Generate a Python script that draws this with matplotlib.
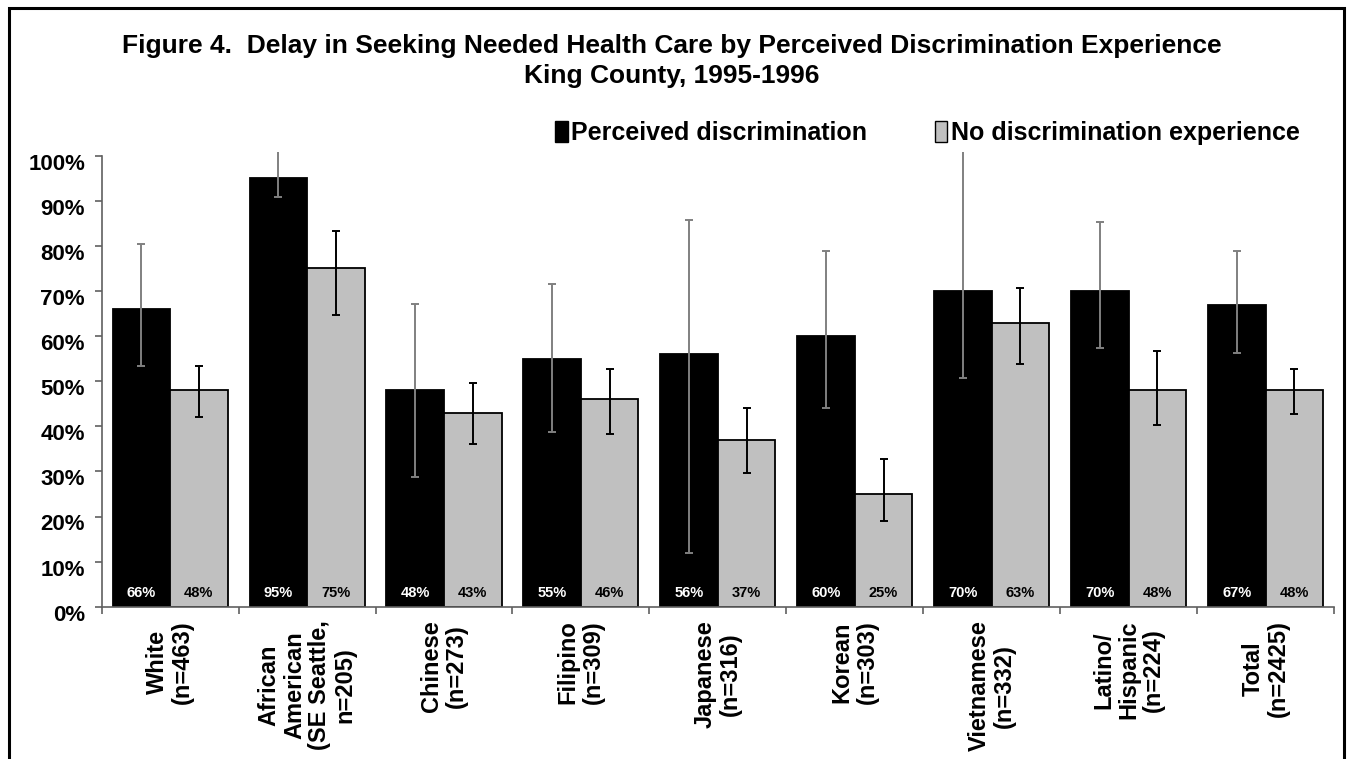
import matplotlib
matplotlib.use("Agg")
import matplotlib.pyplot as plt
import matplotlib.transforms as mtransforms
from matplotlib.patches import Rectangle, Patch
import numpy as np

# Survey groups (tick labels)
categories = [
    "White\n(n=463)",
    "African\nAmerican\n(SE Seattle,\nn=205)",
    "Chinese\n(n=273)",
    "Filipino\n(n=309)",
    "Japanese\n(n=316)",
    "Korean\n(n=303)",
    "Vietnamese\n(n=332)",
    "Latino/\nHispanic\n(n=224)",
    "Total\n(n=2425)",
]

# Percent delaying needed care, with confidence limits
perceived = [66, 95, 48, 55, 56, 60, 70, 70, 67]
perceived_low = [53.4, 90.8, 28.7, 38.7, 11.8, 44.0, 50.6, 57.4, 56.2]
perceived_high = [80.4, 102.0, 67.1, 71.5, 85.7, 78.9, 102.0, 85.3, 78.8]

no_disc = [48, 75, 43, 46, 37, 25, 63, 48, 48]
no_disc_low = [42.1, 64.7, 36.0, 38.4, 29.6, 19.0, 53.8, 40.2, 42.7]
no_disc_high = [53.4, 83.4, 49.5, 52.6, 44.1, 32.7, 70.7, 56.7, 52.6]

series_names = ["Perceived discrimination", "No discrimination experience"]
y_ticks = list(range(0, 101, 10))

FONT = "Liberation Sans"
plt.rcParams["font.family"] = [FONT, "DejaVu Sans"]
plt.rcParams["font.weight"] = "bold"

W, H, DPI = 1351, 759, 100
fig = plt.figure(figsize=(W / DPI, H / DPI), dpi=DPI)
fig.patch.set_facecolor("white")

# outer frame around the whole figure (bottom edge runs off the page)
frame = Rectangle((9 / W, -0.05), (1344 - 9) / W, 1.05 - 8 / H,
                  transform=fig.transFigure, fill=False,
                  edgecolor="black", linewidth=2.2, zorder=0)
fig.patches.append(frame)

ymax = 100.8
ax_left, ax_right = 101.7 / W, 1334 / W
ax_bottom = 1 - 606.7 / H
ax_top = 1 - (606.7 - ymax * 4.51) / H
ax = fig.add_axes([ax_left, ax_bottom, ax_right - ax_left, ax_top - ax_bottom])

x = np.arange(len(categories))
w = 0.42
bar_black = "black"
bar_grey = "#C0C0C0"

ax.bar(x - w / 2, perceived, w, color=bar_black, edgecolor="black",
       linewidth=1.3, zorder=2)
ax.bar(x + w / 2, no_disc, w, color=bar_grey, edgecolor="black",
       linewidth=1.3, zorder=2)

p = np.array(perceived, dtype=float)
n = np.array(no_disc, dtype=float)
ax.errorbar(x - w / 2, p,
            yerr=[p - np.array(perceived_low), np.array(perceived_high) - p],
            fmt="none", ecolor="#808080", elinewidth=1.4, capsize=3,
            capthick=1.4, zorder=3)
ax.errorbar(x + w / 2, n,
            yerr=[n - np.array(no_disc_low), np.array(no_disc_high) - n],
            fmt="none", ecolor="black", elinewidth=1.4, capsize=3,
            capthick=1.4, zorder=3)

# value labels at the foot of each bar
for xi, v in zip(x, perceived):
    ax.text(xi - w / 2, 3.1, f"{v}%", color="white", ha="center",
            va="center", fontsize=10.5, fontweight="bold", zorder=4)
for xi, v in zip(x, no_disc):
    ax.text(xi + w / 2, 3.1, f"{v}%", color="black", ha="center",
            va="center", fontsize=10.5, fontweight="bold", zorder=4)

ax.set_xlim(-0.5, len(categories) - 0.5)
ax.set_ylim(0, ymax)

for side in ("top", "right"):
    ax.spines[side].set_visible(False)
axis_col = "#606060"
ax.spines["left"].set_bounds(0, 100)
ax.spines["left"].set_color(axis_col)
ax.spines["bottom"].set_color(axis_col)
ax.spines["left"].set_linewidth(1.2)
ax.spines["bottom"].set_linewidth(1.2)

ax.set_yticks(y_ticks)
ax.set_yticklabels([f"{t}%" for t in y_ticks], fontsize=16,
                   fontweight="bold")
ax.tick_params(axis="y", direction="out", length=5, width=1.2,
               color=axis_col, pad=7)
shift = mtransforms.ScaledTranslation(0, -6 / DPI, fig.dpi_scale_trans)
for lbl in ax.get_yticklabels():
    lbl.set_transform(lbl.get_transform() + shift)

# category boundaries carry the tick marks, centres carry the labels
ax.set_xticks(np.arange(-0.5, len(categories)), labels=[""] * (len(categories) + 1))
ax.set_xticks(x, labels=categories, minor=True)
ax.tick_params(axis="x", which="major", direction="out", length=5,
               width=1.2, color=axis_col)
ax.tick_params(axis="x", which="minor", length=0, pad=10)
for lbl in ax.get_xticklabels(minor=True):
    lbl.set_rotation(90)
    lbl.set_fontsize(17)
    lbl.set_fontweight("bold")
    lbl.set_ha("center")
    lbl.set_va("top")
    lbl.set_multialignment("center")
    lbl.set_linespacing(1.12)

fig.text(0.4975, 1 - 46 / H,
         "Figure 4.  Delay in Seeking Needed Health Care by Perceived Discrimination Experience",
         ha="center", va="center", fontsize=19, fontweight="bold")
fig.text(0.4975, 1 - 76 / H, "King County, 1995-1996",
         ha="center", va="center", fontsize=19, fontweight="bold")

handles = [Patch(facecolor=bar_black, edgecolor="black", linewidth=1),
           Patch(facecolor=bar_grey, edgecolor="black", linewidth=1)]
fig.legend(handles, series_names, loc="center",
           bbox_to_anchor=((553 + 1302) / 2 / W, 1 - 133 / H),
           ncol=2, frameon=False, handlelength=0.5, handleheight=0.9,
           handletextpad=0.15, columnspacing=2.7,
           prop={"family": FONT, "weight": "bold", "size": 18})

fig.savefig("out.png", dpi=DPI, facecolor="white")
